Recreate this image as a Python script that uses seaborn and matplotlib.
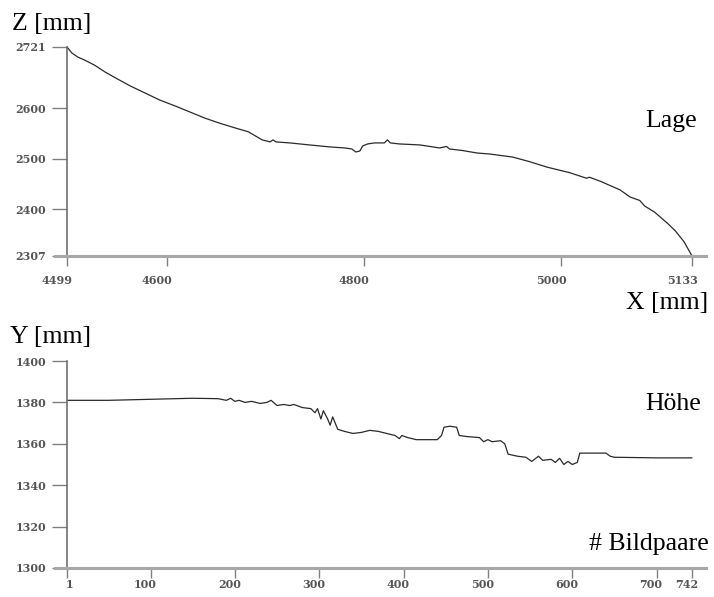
import matplotlib
matplotlib.use("Agg")
import matplotlib.pyplot as plt
import matplotlib.transforms as mtransforms
import seaborn as sns

# ---- data: top panel (Lage) ----
lage_x = [4499, 4504, 4510, 4517, 4527, 4538, 4548, 4563, 4578, 4593, 4609, 4624,
          4639, 4654, 4669, 4683, 4690, 4697, 4705, 4708, 4711, 4725, 4745, 4766,
          4781, 4788, 4792, 4796, 4799, 4804, 4811, 4821, 4824, 4827, 4836, 4857,
          4867, 4877, 4884, 4887, 4900, 4915, 4928, 4951, 4968, 4986, 5009, 5026,
          5029, 5040, 5060, 5070, 5080, 5085, 5095, 5108, 5116, 5125, 5133]
lage_z = [2721, 2709, 2701, 2695, 2685, 2671, 2660, 2644, 2630, 2616, 2604, 2592,
          2580, 2570, 2561, 2553, 2545, 2537, 2533, 2537, 2533, 2531, 2527, 2523,
          2521, 2519, 2513, 2515, 2525, 2529, 2531, 2531, 2537, 2531, 2529, 2527,
          2524, 2521, 2524, 2519, 2516, 2511, 2509, 2503, 2494, 2483, 2472, 2461,
          2463, 2455, 2438, 2424, 2417, 2406, 2394, 2372, 2357, 2335, 2307]
lage_xticks = [4499, 4600, 4800, 5000, 5133]
lage_yticks = [2307, 2400, 2500, 2600, 2721]

# ---- data: bottom panel (Höhe) ----
hoehe_n = [1, 50, 100, 150, 180, 190, 195, 200, 205, 212, 220, 230, 238, 243, 250,
           258, 265, 270, 280, 290, 295, 298, 302, 305, 310, 313, 316, 322, 330,
           340, 350, 360, 370, 380, 390, 395, 398, 405, 415, 425, 440, 445, 448,
           455, 463, 466, 475, 490, 495, 500, 505, 515, 520, 524, 535, 545, 552,
           560, 565, 575, 580, 585, 590, 595, 600, 606, 609, 620, 640, 645, 650,
           700, 742]
hoehe_y = [1381, 1381, 1381.5, 1382, 1381.8, 1381, 1382, 1380.5, 1381, 1380,
           1380.5, 1379.5, 1380, 1381, 1378.5, 1379, 1378.5, 1379, 1377.5, 1377,
           1375, 1377, 1372, 1376, 1372, 1369, 1373, 1367, 1366, 1365, 1365.5,
           1366.5, 1366, 1365, 1364, 1362.5, 1364, 1363, 1362, 1362, 1362, 1364,
           1368, 1368.5, 1368, 1364, 1363.5, 1363, 1361, 1362, 1361, 1361.5, 1360,
           1355, 1354, 1353.5, 1351.5, 1354, 1352, 1352.5, 1351, 1353, 1350,
           1351.5, 1350, 1351, 1355.5, 1355.5, 1355.5, 1354, 1353.5, 1353.2, 1353.2]
hoehe_xticks = [1, 100, 200, 300, 400, 500, 600, 700, 742]
hoehe_yticks = [1300, 1320, 1340, 1360, 1380, 1400]

sns.set_theme(style="white")
plt.rcParams['font.family'] = ['Liberation Serif', 'DejaVu Serif']

W, H = 714, 597
fig = plt.figure(figsize=(W / 100, H / 100), dpi=100)
fig.patch.set_facecolor("white")


def make_axes(px_left, px_right, py_top, py_bottom):
    return fig.add_axes([px_left / W, 1 - py_bottom / H,
                         (px_right - px_left) / W, (py_bottom - py_top) / H])


line_color = "#2a2a2a"
tick_font = dict(family=['DejaVu Serif'], size=8, weight='bold', color='#555555')


def style(ax, x0, y0, xticks, yticks, xpad):
    for s in ['top', 'right']:
        ax.spines[s].set_visible(False)
    ax.spines['left'].set_position(('data', x0))
    ax.spines['bottom'].set_position(('data', y0))
    ax.spines['left'].set_color('#707070')
    ax.spines['left'].set_linewidth(1.2)
    ax.spines['bottom'].set_color('#a8a8a8')
    ax.spines['bottom'].set_linewidth(2.2)
    ax.set_xticks(xticks)
    ax.set_yticks(yticks)
    ax.set_xticklabels([str(t) for t in xticks], fontdict=tick_font, ha='right')
    ax.set_yticklabels([str(t) for t in yticks], fontdict=tick_font)
    ax.tick_params(axis='x', direction='out', length=7, width=1.0,
                   color='#808080', pad=xpad, bottom=True)
    ax.tick_params(axis='y', direction='out', length=11, width=1.0,
                   color='#808080', pad=4, left=True)
    off = mtransforms.ScaledTranslation(6 / 100, 0, fig.dpi_scale_trans)
    for lbl in ax.get_xticklabels():
        lbl.set_transform(lbl.get_transform() + off)
    ax.set_xlabel("")
    ax.set_ylabel("")
    ax.set_facecolor("white")
    ax.grid(False)


# top panel: pixel mapping 4499 -> 67, 5133 -> 692
ax1 = make_axes(55, 706, 47, 256)
sns.lineplot(x=lage_x, y=lage_z, ax=ax1, color=line_color, linewidth=0.9,
             estimator=None, sort=False)
k1 = (5133 - 4499) / (692 - 67)
ax1.set_xlim(4499 - 12 * k1, 5133 + 14 * k1)
ax1.set_ylim(2307, 2721)
style(ax1, 4499, 2307, lage_xticks, lage_yticks, xpad=6.5)
for l in ax1.lines:
    l.set_clip_on(False)

# bottom panel: 1 -> 67, 742 -> 692
ax2 = make_axes(55, 706, 361, 568)
sns.lineplot(x=hoehe_n, y=hoehe_y, ax=ax2, color=line_color, linewidth=0.9,
             estimator=None, sort=False)
k2 = (742 - 1) / (692 - 67)
ax2.set_xlim(1 - 12 * k2, 742 + 14 * k2)
ax2.set_ylim(1300, 1400)
style(ax2, 1, 1300, hoehe_xticks, hoehe_yticks, xpad=1)

lab = dict(family=['Liberation Serif', 'DejaVu Serif'], size=18.5, color='black')
fig.text(12 / W, 1 - 30 / H, "Z [mm]", ha='left', va='baseline', **lab)
fig.text(645 / W, 1 - 127 / H, "Lage", ha='left', va='baseline', **lab)
fig.text(708 / W, 1 - 309 / H, "X [mm]", ha='right', va='baseline', **lab)
fig.text(10 / W, 1 - 343 / H, "Y [mm]", ha='left', va='baseline', **lab)
fig.text(645 / W, 1 - 410 / H, "Höhe", ha='left', va='baseline', **lab)
fig.text(709 / W, 1 - 550 / H, "# Bildpaare", ha='right', va='baseline', **lab)

fig.savefig("out.png", dpi=100, facecolor="white")
